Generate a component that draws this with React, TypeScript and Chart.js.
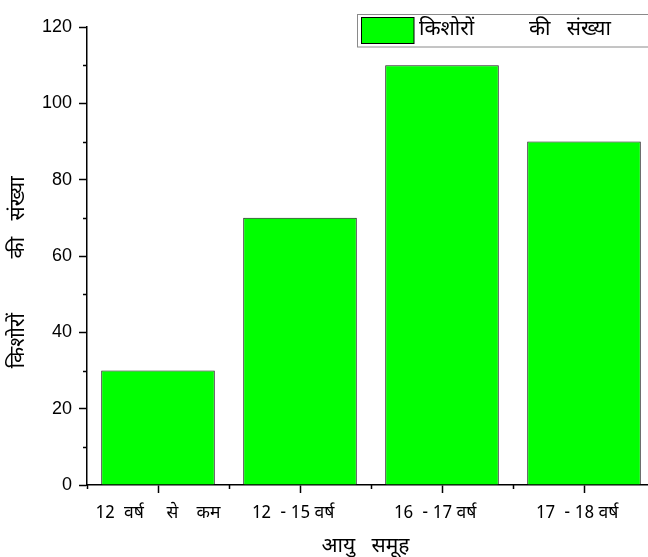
import React, { useEffect, useRef } from "react";
import { Chart, registerables } from "chart.js";

Chart.register(...registerables);

const categories = ["12  वर्ष     से    कम", "12  - 15 वर्ष   ", "16  - 17 वर्ष   ", "17  - 18 वर्ष   "];
const counts = [30, 70, 110, 90];
const seriesLabel = "किशोरों          की   संख्या";
const yTitle = "किशोरों          की   संख्या      ";
const xTitle = "आयु   समूह  ";
const yMin = 0;
const yMax = 120;
const yStep = 20;
const yMinorValues = [10, 30, 50, 70, 90, 110];

const HINDI = "'Noto Sans Devanagari', 'Noto Sans', 'Liberation Sans', sans-serif";
const ARIAL = "'Liberation Sans', Arial, sans-serif";

const minorTicksPlugin = {
  id: "minorTicks",
  afterDraw(chart: any) {
    const { ctx, chartArea } = chart;
    const x = chart.scales.x;
    const y = chart.scales.y;
    ctx.save();
    ctx.strokeStyle = "#000";
    ctx.lineWidth = 1.5;
    ctx.beginPath();
    for (const v of yMinorValues) {
      const py = Math.round(y.getPixelForValue(v)) + 0.5;
      ctx.moveTo(chartArea.left - 4, py);
      ctx.lineTo(chartArea.left, py);
    }
    const n = categories.length;
    for (let i = 0; i <= n; i++) {
      const px = Math.round(x.getPixelForValue(i - 0.5)) + 0.5;
      ctx.moveTo(px, chartArea.bottom);
      ctx.lineTo(px, chartArea.bottom + 4);
    }
    ctx.stroke();
    ctx.restore();
  },
};

const legendBoxPlugin = {
  id: "legendBox",
  afterDraw(chart: any) {
    const { ctx } = chart;
    const ds = chart.data.datasets[0];
    ctx.save();
    ctx.strokeStyle = "#8a8a8a";
    ctx.lineWidth = 1;
    ctx.strokeRect(357.5, 14.5, 330, 32.5);
    ctx.fillStyle = ds.backgroundColor;
    ctx.fillRect(361, 17.5, 53, 26);
    ctx.strokeStyle = "#000";
    ctx.strokeRect(361.5, 17.5, 52.5, 26);
    ctx.fillStyle = "#000";
    ctx.font = `21px ${HINDI}`;
    ctx.textBaseline = "middle";
    ctx.textAlign = "left";
    ctx.fillText(ds.label, 419, 31);
    ctx.restore();
  },
};

export default function App() {
  const ref = useRef<HTMLCanvasElement | null>(null);
  useEffect(() => {
    if (!ref.current) return;
    const chart = new Chart(ref.current, {
      type: "bar",
      data: {
        labels: categories,
        datasets: [
          {
            label: seriesLabel,
            data: counts,
            backgroundColor: "#00FF00",
            borderColor: "#1a1a1a",
            borderWidth: 1,
            barPercentage: 0.8,
            categoryPercentage: 1,
          },
        ],
      },
      options: {
        animation: false,
        responsive: false,
        maintainAspectRatio: false,
        layout: { padding: { top: 27, right: 15, bottom: 0, left: 0 } },
        plugins: {
          legend: { display: false },
          tooltip: { enabled: false },
        },
        scales: {
          x: {
            offset: true,
            grid: {
              offset: false,
              drawOnChartArea: false,
              drawTicks: true,
              tickLength: 8,
              tickWidth: 1.5,
              tickColor: "#000",
            },
            border: { display: true, color: "#000", width: 1.5 },
            ticks: {
              color: "#000",
              font: { family: HINDI, size: 17.5 },
              padding: 11,
              maxRotation: 0,
              autoSkip: false,
            },
            title: {
              display: true,
              text: xTitle,
              color: "#000",
              font: { family: HINDI, size: 21 },
              padding: { top: 0, bottom: -4 },
            },
            afterFit: (s: any) => {
              s.height = 72;
            },
          },
          y: {
            min: yMin,
            max: yMax,
            grid: {
              drawOnChartArea: false,
              drawTicks: true,
              tickLength: 8,
              tickWidth: 1.5,
              tickColor: "#000",
            },
            border: { display: true, color: "#000", width: 1.5 },
            ticks: {
              stepSize: yStep,
              color: "#000",
              font: { family: ARIAL, size: 18 },
              padding: 7,
            },
            title: {
              display: true,
              text: yTitle,
              color: "#000",
              font: { family: HINDI, size: 21 },
              padding: { top: 7, bottom: 0 },
            },
            afterFit: (s: any) => {
              s.width = 87;
            },
          },
        },
      },
      plugins: [minorTicksPlugin, legendBoxPlugin],
    });
    return () => chart.destroy();
  }, []);

  return (
    <div
      style={{
        position: "fixed",
        left: 0,
        top: 0,
        width: 648,
        height: 557,
        overflow: "hidden",
        background: "#fff",
      }}
    >
      <canvas ref={ref} width={670} height={557} style={{ display: "block", width: 670, height: 557 }} />
    </div>
  );
}
